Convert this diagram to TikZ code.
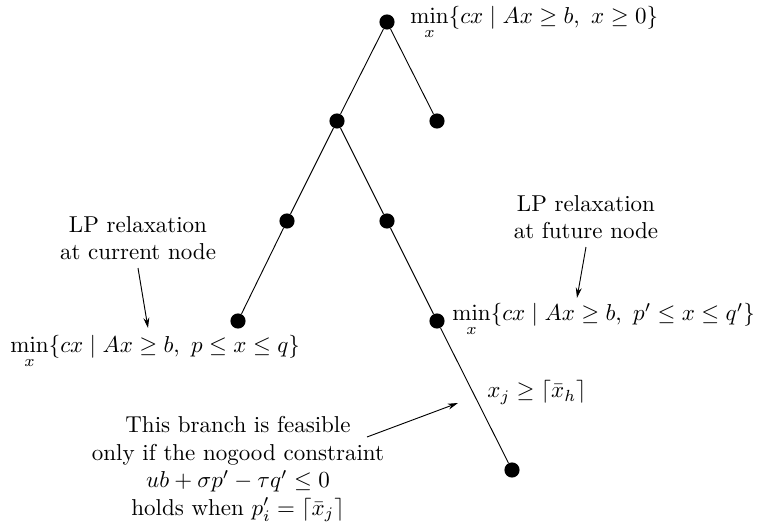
\documentclass[tikz,border=0pt]{standalone}
\usepackage{amsmath, amssymb}
\usepackage{tikz}
\usetikzlibrary{arrows.meta}

\begin{document}
\begin{tikzpicture}[x=0.435pt, y=-0.435pt,
    dot/.style={circle, fill, inner sep=0pt, minimum size=6.6pt},
    lp/.style={inner sep=0pt, anchor=base west},
    note/.style={align=center},
    ptr/.style={-{Stealth[length=4.5pt, width=2.6pt]}}]
  \useasboundingbox (0,0) rectangle (761,525);
  \node[dot] (root) at (387,22) {};
  \node[dot] (n1) at (337,121) {};
  \node[dot] (n2) at (437,121) {};
  \node[dot] (n11) at (287,221) {};
  \node[dot] (n12) at (387,221) {};
  \node[dot] (cur) at (238,321) {};
  \node[dot] (fut) at (437,321) {};
  \node[dot] (leaf) at (512,470) {};
  \draw (root) -- (n1); \draw (root) -- (n2);
  \draw (n1) -- (n11); \draw (n1) -- (n12);
  \draw (n11) -- (cur); \draw (n12) -- (fut);
  \draw (fut) -- (leaf);
  \node[lp] (rootlp) at (410,24) {$\min\limits_x\{cx \mid Ax \geq b,\ x \geq 0\}$};
  \node[lp] (futlp) at (452,321) {$\min\limits_x\{cx \mid Ax \geq b,\ p' \leq x \leq q'\}$};
  \node[lp] (curlp) at (10,353) {$\min\limits_x\{cx \mid Ax \geq b,\ p \leq x \leq q\}$};
  \node[lp] (cut) at (487,398) {$x_j \geq \lceil \bar{x}_h \rceil$};
  \node[note] (curtxt) at (138,238) {LP relaxation\\at current node};
  \node[note] (futtxt) at (586,217) {LP relaxation\\at future node};
  \node[note] (nogood) at (238,469) {This branch is feasible\\only if the nogood constraint\\$ub+\sigma p'-\tau q' \leq 0$\\holds when $p'_i=\lceil \bar{x}_j \rceil$};
  \coordinate (curtip) at (148,328);
  \coordinate (futtip) at (577,298);
  \coordinate (ngtail) at (367,437);
  \coordinate (ngtip) at (458,403);
  \draw[ptr] (curtxt.south) -- (curtip);
  \draw[ptr] (futtxt.south) -- (futtip);
  \draw[ptr] (ngtail) -- (ngtip);
\end{tikzpicture}
\end{document}
